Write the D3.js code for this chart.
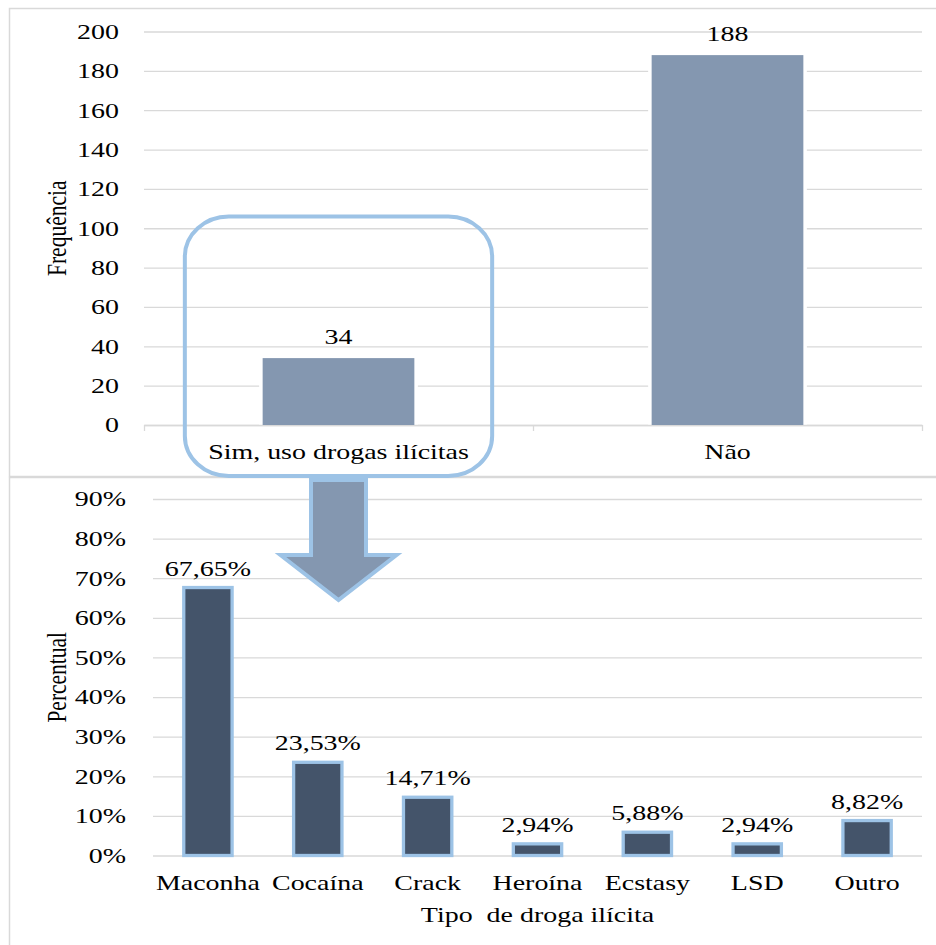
<!DOCTYPE html>
<html>
<head>
<meta charset="utf-8">
<script src="https://cdn.jsdelivr.net/npm/d3@7"></script>
<style>
  html, body { margin: 0; padding: 0; background: #fff; }
  svg { display: block; }
  svg text { font-family: 'Liberation Serif', 'DejaVu Serif', serif; }
</style>
</head>
<body>
<div id="chart"></div>
<script>
'use strict';

// data
const answerCats = ['Sim, uso drogas ilícitas', 'Não'];
const answerFreq = [34, 188];
const freqTicks = [0, 20, 40, 60, 80, 100, 120, 140, 160, 180, 200];

const drugCats = ['Maconha', 'Cocaína', 'Crack', 'Heroína', 'Ecstasy', 'LSD', 'Outro'];
const drugPct = [67.65, 23.53, 14.71, 2.94, 5.88, 2.94, 8.82];
const pctTicks = [0, 10, 20, 30, 40, 50, 60, 70, 80, 90];

const width = 936;
const height = 945;
const FS = 21.5;
const SX = 1.3; // the original picture is stretched sideways, text too
const grid = '#d9d9d9';
const lightBlue = '#9dc3e6';

const ptLocale = d3.formatLocale({ decimal: ',', thousands: '.', grouping: [3], currency: ['', ''] });
const fmtPct = (v) => ptLocale.format('.2f')(v) + '%';

const svg = d3.select('#chart')
  .append('svg')
  .attr('width', width)
  .attr('height', height);

svg.append('rect')
  .attr('width', width)
  .attr('height', height)
  .attr('fill', '#fff');

// stretch text horizontally around its anchor point
const stretch = (sel, rot) => {
  sel.each(function () {
    const t = d3.select(this);
    const x = +t.attr('x') || 0;
    const y = +t.attr('y') || 0;
    t.attr('x', 0).attr('y', 0)
      .attr('transform', `translate(${x},${y}) scale(${SX},1)${rot ? ` rotate(${rot})` : ''}`);
  });
};

const styleText = (sel) => sel
  .attr('font-family', null)
  .style('font-size', `${FS}px`)
  .attr('fill', '#000');

// panel frames
svg.append('rect')
  .attr('x', 9.5).attr('y', 8.5)
  .attr('width', 940).attr('height', 468)
  .attr('fill', 'none').attr('stroke', grid).attr('stroke-width', 1.5);
svg.append('rect')
  .attr('x', 9.5).attr('y', 477.5)
  .attr('width', 940).attr('height', 480)
  .attr('fill', 'none').attr('stroke', grid).attr('stroke-width', 1.5);

// ---------- top chart: frequency ----------
const topM = { left: 144, right: 922, top: 31.5, bottom: 425 };

const xTop = d3.scaleBand()
  .domain(answerCats)
  .range([topM.left, topM.right]);

const yTop = d3.scaleLinear()
  .domain([0, 200])
  .range([topM.bottom, topM.top]);

const gTop = svg.append('g');

gTop.append('g')
  .attr('transform', `translate(${topM.left},0)`)
  .call(d3.axisLeft(yTop).tickValues(freqTicks).tickSize(-(topM.right - topM.left)).tickFormat(''))
  .call((g) => g.select('.domain').remove())
  .call((g) => g.selectAll('line').attr('stroke', grid).attr('stroke-width', 1.3));

gTop.append('g')
  .attr('transform', `translate(${topM.left},0)`)
  .call(d3.axisLeft(yTop).tickValues(freqTicks).tickSize(0).tickPadding(25))
  .call((g) => g.select('.domain').remove())
  .call((g) => g.selectAll('text').call(styleText).call(stretch));

// boundary ticks of the category axis
const xTopEdges = d3.scaleLinear().domain([0, answerCats.length]).range([topM.left, topM.right]);
gTop.append('g')
  .attr('transform', `translate(0,${topM.bottom})`)
  .call(d3.axisBottom(xTopEdges).tickValues(d3.range(answerCats.length + 1)).tickSize(6).tickSizeOuter(0).tickFormat(''))
  .call((g) => g.selectAll('line, path').attr('stroke', grid).attr('stroke-width', 1.3));

gTop.append('g')
  .attr('transform', `translate(0,${topM.bottom})`)
  .call(d3.axisBottom(xTop).tickSize(0).tickPadding(18.5))
  .call((g) => g.select('.domain').remove())
  .call((g) => g.selectAll('text').call(styleText).call(stretch));

const topBarW = xTop.bandwidth() * 0.39;
const topData = answerCats.map((c, i) => ({ c, v: answerFreq[i] }));

gTop.selectAll('rect.halo')
  .data(topData)
  .join('rect')
  .attr('class', 'halo')
  .attr('x', (d) => xTop(d.c) + (xTop.bandwidth() - topBarW) / 2 - 3.5)
  .attr('y', (d) => yTop(d.v) - 3)
  .attr('width', topBarW + 7)
  .attr('height', (d) => yTop(0) - yTop(d.v) + 2.5)
  .attr('fill', '#fff');

gTop.selectAll('rect.bar')
  .data(topData)
  .join('rect')
  .attr('class', 'bar')
  .attr('x', (d) => xTop(d.c) + (xTop.bandwidth() - topBarW) / 2)
  .attr('y', (d) => yTop(d.v))
  .attr('width', topBarW)
  .attr('height', (d) => yTop(0) - yTop(d.v))
  .attr('fill', '#8497b0');

gTop.selectAll('text.val')
  .data(topData)
  .join('text')
  .attr('class', 'val')
  .attr('x', (d) => xTop(d.c) + xTop.bandwidth() / 2)
  .attr('y', (d) => yTop(d.v) - 14)
  .attr('text-anchor', 'middle')
  .text((d) => d.v)
  .call(styleText)
  .call(stretch);

gTop.append('text')
  .attr('x', 56)
  .attr('y', (topM.top + topM.bottom) / 2)
  .attr('text-anchor', 'middle')
  .attr('dy', '0.35em')
  .text('Frequência')
  .call(styleText)
  .call(stretch, -90);

// ---------- bottom chart: percent by drug ----------
const botM = { left: 153, right: 922, top: 499, bottom: 855.5 };

const xBot = d3.scaleBand()
  .domain(drugCats)
  .range([botM.left, botM.right]);

const yBot = d3.scaleLinear()
  .domain([0, 90])
  .range([botM.bottom, botM.top]);

const gBot = svg.append('g');

gBot.append('g')
  .attr('transform', `translate(${botM.left},0)`)
  .call(d3.axisLeft(yBot).tickValues(pctTicks).tickSize(-(botM.right - botM.left)).tickFormat(''))
  .call((g) => g.select('.domain').remove())
  .call((g) => g.selectAll('line').attr('stroke', grid).attr('stroke-width', 1.3));

gBot.append('g')
  .attr('transform', `translate(${botM.left},0)`)
  .call(d3.axisLeft(yBot).tickValues(pctTicks).tickSize(0).tickPadding(27).tickFormat((d) => `${d}%`))
  .call((g) => g.select('.domain').remove())
  .call((g) => g.selectAll('text').call(styleText).call(stretch));

gBot.append('g')
  .attr('transform', `translate(0,${botM.bottom})`)
  .call(d3.axisBottom(xBot).tickSize(0).tickPadding(19))
  .call((g) => g.select('.domain').remove())
  .call((g) => g.selectAll('text').call(styleText).call(stretch));

const botBarW = xBot.bandwidth() * 0.44;
const botData = drugCats.map((c, i) => ({ c, v: drugPct[i] }));

gBot.selectAll('rect.bar')
  .data(botData)
  .join('rect')
  .attr('class', 'bar')
  .attr('x', (d) => xBot(d.c) + (xBot.bandwidth() - botBarW) / 2)
  .attr('y', (d) => yBot(d.v))
  .attr('width', botBarW)
  .attr('height', (d) => yBot(0) - yBot(d.v))
  .attr('fill', '#44546a')
  .attr('stroke', lightBlue)
  .attr('stroke-width', 3.3);

gBot.selectAll('text.val')
  .data(botData)
  .join('text')
  .attr('class', 'val')
  .attr('x', (d) => xBot(d.c) + xBot.bandwidth() / 2)
  .attr('y', (d) => yBot(d.v) - 12)
  .attr('text-anchor', 'middle')
  .text((d) => fmtPct(d.v))
  .call(styleText)
  .call(stretch);

gBot.append('text')
  .attr('x', 56)
  .attr('y', (botM.top + botM.bottom) / 2)
  .attr('text-anchor', 'middle')
  .attr('dy', '0.35em')
  .text('Percentual')
  .call(styleText)
  .call(stretch, -90);

gBot.append('text')
  .attr('x', (botM.left + botM.right) / 2)
  .attr('y', 922)
  .attr('text-anchor', 'middle')
  .style('white-space', 'pre')
  .text('Tipo  de droga ilícita')
  .call(styleText)
  .call(stretch);

// ---------- callout: rounded box + arrow ----------
const simCx = xTop(answerCats[0]) + xTop.bandwidth() / 2;
const boxW = xTop.bandwidth() * 0.79;
const boxTop = yTop(106);
const boxBottom = 476;

svg.append('rect')
  .attr('x', simCx - boxW / 2)
  .attr('y', boxTop)
  .attr('width', boxW)
  .attr('height', boxBottom - boxTop)
  .attr('rx', 44)
  .attr('ry', 40)
  .attr('fill', 'none')
  .attr('stroke', lightBlue)
  .attr('stroke-width', 4);

const shaftHalf = 27.5;
const headHalf = 58;
const arrowTop = 480;
const neckY = 555;
const tipY = 600;
const arrowPts = [
  [simCx - shaftHalf, arrowTop],
  [simCx + shaftHalf, arrowTop],
  [simCx + shaftHalf, neckY],
  [simCx + headHalf, neckY],
  [simCx, tipY],
  [simCx - headHalf, neckY],
  [simCx - shaftHalf, neckY],
];

svg.append('path')
  .attr('d', d3.line()(arrowPts) + 'Z')
  .attr('fill', '#8497b0')
  .attr('stroke', lightBlue)
  .attr('stroke-width', 4)
  .attr('stroke-linejoin', 'miter');
</script>
</body>
</html>
